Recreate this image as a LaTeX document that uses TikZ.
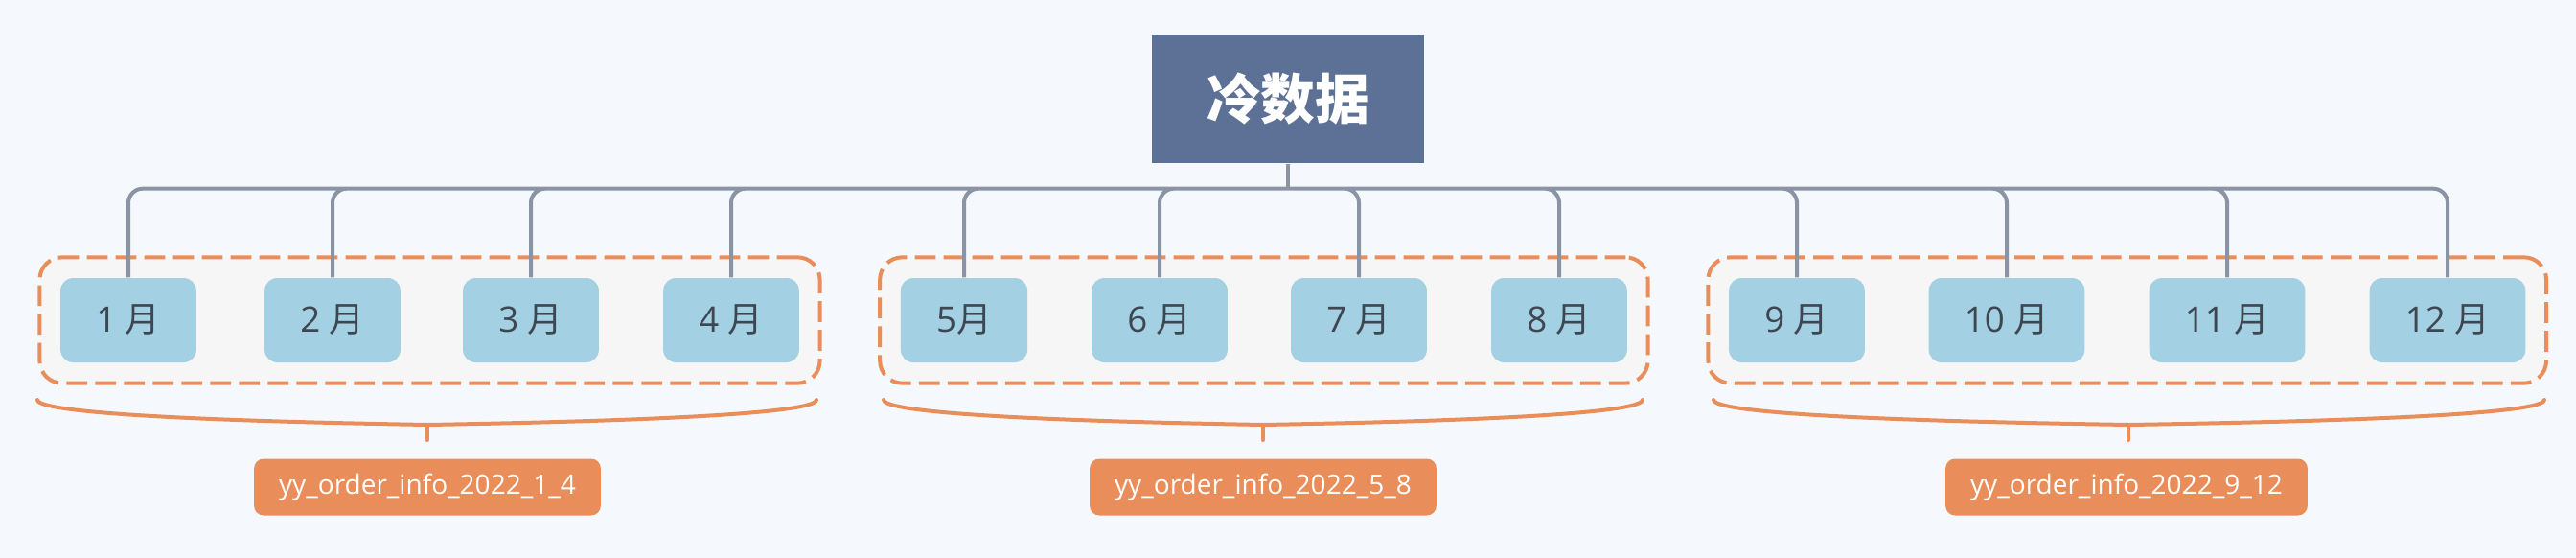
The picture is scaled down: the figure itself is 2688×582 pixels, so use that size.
\documentclass[tikz,border=0pt]{standalone}
\usepackage{fontspec}
\setmainfont{Open Sans}
\newfontfamily\cjk{Noto Sans CJK SC}
\usepackage{xcolor}
\usepackage{tikz}
\usetikzlibrary{positioning, fit, backgrounds}

\definecolor{bgblue}{HTML}{F5F9FD}
\definecolor{rootblue}{HTML}{5D7196}
\definecolor{monthblue}{HTML}{A3D1E3}
\definecolor{wiregray}{HTML}{8A94A4}
\definecolor{accent}{HTML}{E98E5A}
\definecolor{grpfill}{HTML}{F6F6F6}
\definecolor{txtdark}{HTML}{3E4652}

\begin{document}
\begin{tikzpicture}[
  x=0.3pt, y=-0.3pt,
  root/.style={fill=rootblue, minimum width=85.2pt, minimum height=40.2pt,
               text=white, font=\cjk\bfseries\fontsize{17}{20}\selectfont},
  month/.style={fill=monthblue, rounded corners=4pt, minimum height=26.4pt,
                inner xsep=11.2pt, text=txtdark, font=\fontsize{11}{13}\selectfont},
  grp/.style={draw=accent, line width=1.2pt, dash pattern=on 6.5pt off 2.5pt,
              fill=grpfill, rounded corners=7pt, inner sep=6.3pt},
  tbl/.style={fill=accent, rounded corners=3pt, minimum height=17.7pt,
              inner xsep=7.8pt, text=white, font=\fontsize{8.4}{10}\selectfont},
  wire/.style={wiregray, line width=1.2pt, rounded corners=4.5pt},
  brace/.style={accent, line width=1.2pt, line cap=round},
]
\node[root] (root) at (1344,103) {冷数据};

\node[month] (m1)  at (134,334)  {1 {\cjk 月}};
\node[month] (m2)  at (347,334)  {2 {\cjk 月}};
\node[month] (m3)  at (554,334)  {3 {\cjk 月}};
\node[month] (m4)  at (763,334)  {4 {\cjk 月}};
\node[month] (m5)  at (1006,334) {5{\cjk 月}};
\node[month] (m6)  at (1210,334) {6 {\cjk 月}};
\node[month] (m7)  at (1418,334) {7 {\cjk 月}};
\node[month] (m8)  at (1627,334) {8 {\cjk 月}};
\node[month] (m9)  at (1875,334) {9 {\cjk 月}};
\node[month] (m10) at (2094,334) {10 {\cjk 月}};
\node[month] (m11) at (2324,334) {11 {\cjk 月}};
\node[month] (m12) at (2554,334) {12 {\cjk 月}};

\begin{scope}[on background layer]
  \fill[bgblue] (0,0) rectangle (2688,582);
  \node[grp, fit=(m1) (m4)]  (grp1) {};
  \node[grp, fit=(m5) (m8)]  (grp2) {};
  \node[grp, fit=(m9) (m12)] (grp3) {};
\end{scope}

% tree connectors
\draw[wire] (root.south) -- ++(0,26) coordinate (hub);
\draw[wire] (hub) -| (m1.north)  (hub) -| (m2.north)  (hub) -| (m3.north)
            (hub) -| (m4.north)  (hub) -| (m5.north)  (hub) -| (m6.north);
\draw[wire] (hub) -| (m7.north)  (hub) -| (m8.north)  (hub) -| (m9.north)
            (hub) -| (m10.north) (hub) -| (m11.north) (hub) -| (m12.north);

% braces under each group
\draw[brace] (39,417) .. controls (39,428) and (150,438) .. (446,443) coordinate (bc1)
             .. controls (742,438) and (852,428) .. (852,417);
\draw[brace] (922,417) .. controls (922,428) and (1030,438) .. (1318,443) coordinate (bc2)
             .. controls (1606,438) and (1714,428) .. (1714,417);
\draw[brace] (1788,417) .. controls (1788,428) and (1900,438) .. (2221,443) coordinate (bc3)
             .. controls (2543,438) and (2655,428) .. (2655,417);
\draw[brace] (bc1) -- ++(0,16);
\draw[brace] (bc2) -- ++(0,16);
\draw[brace] (bc3) -- ++(0,16);

\node[tbl] (tbl1) at (446,508)  {yy\_order\_info\_2022\_1\_4};
\node[tbl] (tbl2) at (1318,508) {yy\_order\_info\_2022\_5\_8};
\node[tbl] (tbl3) at (2219,508) {yy\_order\_info\_2022\_9\_12};
\end{tikzpicture}
\end{document}
